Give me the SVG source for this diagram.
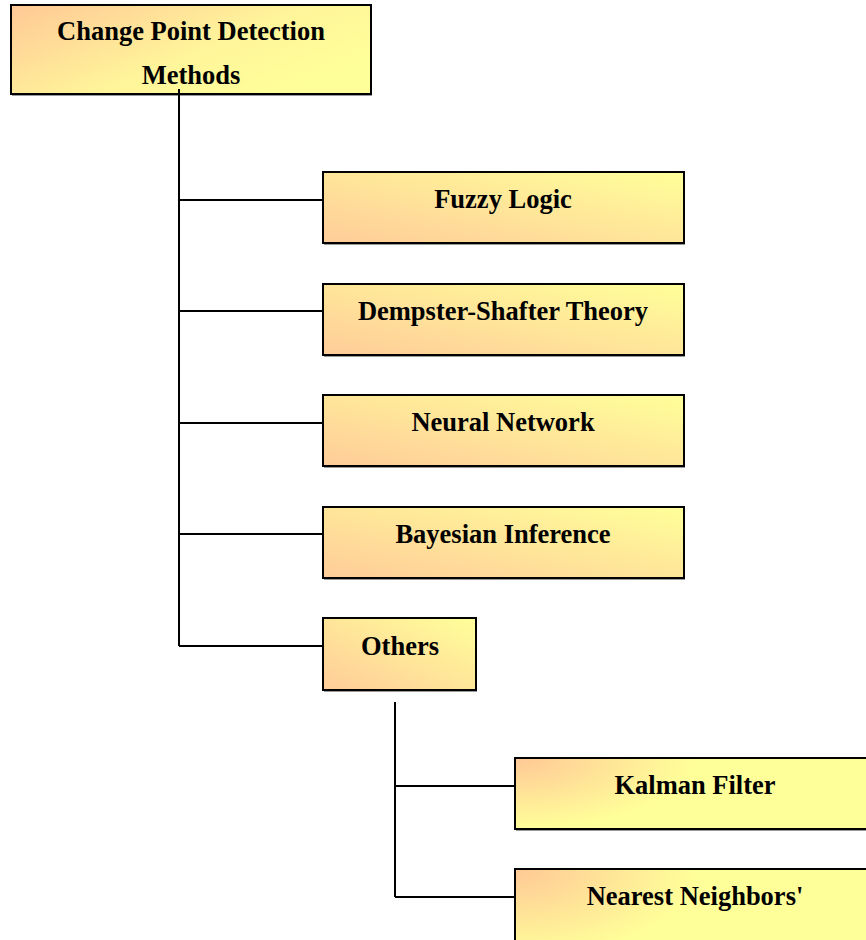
<svg xmlns="http://www.w3.org/2000/svg" width="866" height="940" viewBox="0 0 866 940">
<defs>
<linearGradient id="gTop" x1="0" y1="0" x2="1" y2="0.6">
<stop offset="0" stop-color="#FFC896"/><stop offset="0.6" stop-color="#FFF49A"/><stop offset="1" stop-color="#FFFF99"/>
</linearGradient>
<linearGradient id="gMid" x1="0" y1="1" x2="1" y2="0">
<stop offset="0" stop-color="#FFCC99"/><stop offset="1" stop-color="#FFFF99"/>
</linearGradient>
<radialGradient id="gBot" cx="0" cy="0" r="1" gradientTransform="scale(0.5,1)">
<stop offset="0" stop-color="#FFC896"/><stop offset="1" stop-color="#FFFF99"/>
</radialGradient>
<style>
.box{stroke:#000;stroke-width:2}
.shadow{fill:#999}
.lbl{font-family:"Liberation Serif","Times New Roman",serif;font-weight:bold;font-size:26.5px;fill:#000;text-anchor:middle}
.conn{stroke:#000;stroke-width:2;fill:none}
</style>
</defs>
<g id="root">
<rect class="shadow" x="12" y="94" width="360" height="2"/>
<rect class="box" x="11" y="5" width="360" height="89" fill="url(#gTop)"/>
<text class="lbl" x="191" y="40">Change Point Detection</text>
<text class="lbl" x="191" y="84">Methods</text>
</g>
<g id="fuzzy">
<rect class="shadow" x="324" y="243" width="361" height="2"/>
<rect class="box" x="323" y="172" width="361" height="71" fill="url(#gMid)"/>
<text class="lbl" x="503" y="208">Fuzzy Logic</text>
</g>
<g id="dempster">
<rect class="shadow" x="324" y="355" width="361" height="2"/>
<rect class="box" x="323" y="284" width="361" height="71" fill="url(#gMid)"/>
<text class="lbl" x="503" y="320">Dempster-Shafter Theory</text>
</g>
<g id="neural">
<rect class="shadow" x="324" y="466" width="361" height="2"/>
<rect class="box" x="323" y="395" width="361" height="71" fill="url(#gMid)"/>
<text class="lbl" x="503" y="431">Neural Network</text>
</g>
<g id="bayesian">
<rect class="shadow" x="324" y="578" width="361" height="2"/>
<rect class="box" x="323" y="507" width="361" height="71" fill="url(#gMid)"/>
<text class="lbl" x="503" y="543">Bayesian Inference</text>
</g>
<g id="others">
<rect class="shadow" x="324" y="690" width="153" height="2"/>
<rect class="box" x="323" y="618" width="153" height="72" fill="url(#gMid)"/>
<text class="lbl" x="400" y="655">Others</text>
</g>
<g id="kalman">
<rect class="shadow" x="516" y="829" width="360" height="2"/>
<rect class="box" x="515" y="758" width="360" height="71" fill="url(#gBot)"/>
<text class="lbl" x="695" y="794">Kalman Filter</text>
</g>
<g id="nearest">
<rect class="box" x="515" y="869" width="360" height="90" fill="url(#gBot)"/>
<text class="lbl" x="695" y="905">Nearest Neighbors'</text>
</g>
<g id="connectors">
<path class="conn" d="M179,89 V646 M179,200 H322 M179,311 H322 M179,423 H322 M179,534 H322 M179,646 H322"/>
<path class="conn" d="M395,702 V897 M395,786 H514 M395,897 H514"/>
</g>
</svg>
